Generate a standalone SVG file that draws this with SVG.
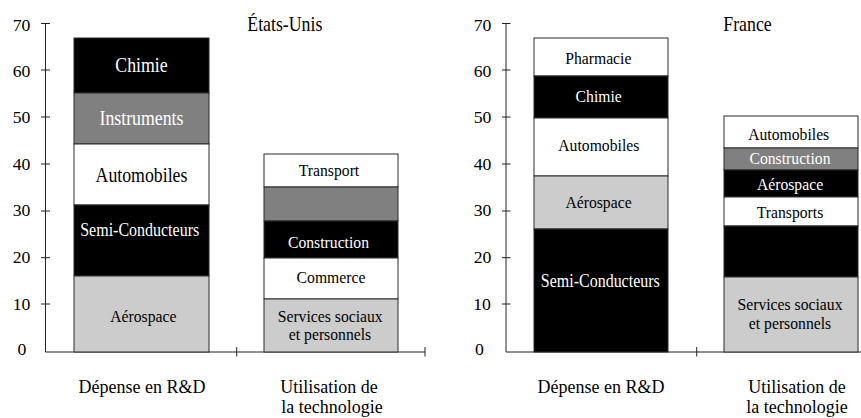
<svg xmlns="http://www.w3.org/2000/svg" width="861" height="418" viewBox="0 0 861 418">
<style>
text{font-family:"Liberation Serif","DejaVu Serif","Times New Roman",serif;fill:#000}
.num{font-size:17.7px;text-anchor:middle}
.lbl{font-size:15.7px;text-anchor:middle}
.big{font-size:17.8px}
.cat{font-size:18px;text-anchor:middle}
.ttl{font-size:17.8px}
.w{fill:#fff}
.k{fill:#000}
.g{fill:#808080}
.l{fill:#cccccc}
.wh{fill:#fff}
rect{stroke:#2a2a2a;stroke-width:1}
.ax{stroke:#222;stroke-width:1;fill:none}
</style>
<g id="axes" font-family="Liberation Serif, serif">
<path class="ax" d="M45.5 23.5V352M41 23.5H50M41 70H50M41 117H50M41 164H50M41 211H50M41 257.7H50M41 304H50M45.5 352H425M236.7 347V356.5M425 347V356.5"/>
<path class="ax" d="M506 23.5V352M502 23.5H510.5M502 70H510.5M502 117H510.5M502 164H510.5M502 211H510.5M502 257.7H510.5M502 304H510.5M506 352H861M696.7 347V356.5"/>
<text class="num" x="21.5" y="30.5">70</text>
<text class="num" x="21.5" y="76.5">60</text>
<text class="num" x="21.5" y="123">50</text>
<text class="num" x="21.5" y="170">40</text>
<text class="num" x="21.5" y="216">30</text>
<text class="num" x="21.5" y="263">20</text>
<text class="num" x="21.5" y="309.5">10</text>
<text class="num" x="22" y="354.5">0</text>
<text class="num" x="482.5" y="30.5">70</text>
<text class="num" x="482.5" y="76.5">60</text>
<text class="num" x="482.5" y="123">50</text>
<text class="num" x="482.5" y="170">40</text>
<text class="num" x="482.5" y="216">30</text>
<text class="num" x="482.5" y="263">20</text>
<text class="num" x="482" y="309.5">10</text>
<text class="num" x="479.5" y="354.5">0</text>
</g>
<g id="titles" font-family="Liberation Serif, serif">
<text class="ttl" transform="translate(247.3 31) scale(1 1.12)">États-Unis</text>
<text class="ttl" transform="translate(723.3 31) scale(1 1.12)">France</text>
<text class="cat" transform="translate(142 393) scale(1 1.1)">Dépense en R&amp;D</text>
<text class="cat" transform="translate(329 393) scale(1 1.05)">Utilisation de</text>
<text class="cat" transform="translate(332 413) scale(1 1.05)">la technologie</text>
<text class="cat" transform="translate(601 393) scale(1 1.1)">Dépense en R&amp;D</text>
<text class="cat" transform="translate(797 393) scale(1 1.05)">Utilisation de</text>
<text class="cat" transform="translate(797 413) scale(1 1.05)">la technologie</text>
</g>
<g id="us-rd" font-family="Liberation Serif, serif">
<g id="us-rd-chimie"><rect class="k" x="74" y="38" width="135" height="55"/><text class="lbl big w" transform="translate(141.5 71.7) scale(1 1.12)">Chimie</text></g>
<g id="us-rd-instruments"><rect class="g" x="74" y="93" width="135" height="51"/><text class="lbl big w" transform="translate(141.5 124.7) scale(1 1.12)">Instruments</text></g>
<g id="us-rd-automobiles"><rect class="wh" x="74" y="144" width="135" height="61"/><text class="lbl big" transform="translate(141.5 182.3) scale(1 1.12)">Automobiles</text></g>
<g id="us-rd-semi"><rect class="k" x="74" y="205" width="135" height="71"/><text class="lbl w" style="font-size:16px" transform="translate(139.7 235.7) scale(1 1.12)">Semi-Conducteurs</text></g>
<g id="us-rd-aero"><rect class="l" x="74" y="276" width="135" height="76"/><text class="lbl" transform="translate(143.3 321.5) scale(1 1.12)">Aérospace</text></g>
</g>
<g id="us-use" font-family="Liberation Serif, serif">
<g id="us-use-transport"><rect class="wh" x="264" y="154" width="134" height="33"/><text class="lbl" transform="translate(329 176) scale(1 1.12)">Transport</text></g>
<g id="us-use-gray"><rect class="g" x="264" y="187" width="134" height="34"/></g>
<g id="us-use-construction"><rect class="k" x="264" y="221" width="134" height="37"/><text class="lbl w" transform="translate(328.5 247.5) scale(1 1.12)">Construction</text></g>
<g id="us-use-commerce"><rect class="wh" x="264" y="258" width="134" height="41"/><text class="lbl" transform="translate(331 283) scale(1 1.12)">Commerce</text></g>
<g id="us-use-services"><rect class="l" x="264" y="299" width="134" height="53"/><text class="lbl" transform="translate(330.2 321.5) scale(1 1.12)">Services sociaux</text><text class="lbl" transform="translate(330 340) scale(1 1.12)">et personnels</text></g>
</g>
<g id="fr-rd" font-family="Liberation Serif, serif">
<g id="fr-rd-pharmacie"><rect class="wh" x="534" y="38" width="134" height="38"/><text class="lbl" transform="translate(598.3 63.5) scale(1 1.12)">Pharmacie</text></g>
<g id="fr-rd-chimie"><rect class="k" x="534" y="76" width="134" height="42"/><text class="lbl w" transform="translate(598.7 101.5) scale(1 1.12)">Chimie</text></g>
<g id="fr-rd-automobiles"><rect class="wh" x="534" y="118" width="134" height="58"/><text class="lbl" transform="translate(598.8 151) scale(1 1.12)">Automobiles</text></g>
<g id="fr-rd-aero"><rect class="l" x="534" y="176" width="134" height="53"/><text class="lbl" transform="translate(598.5 208) scale(1 1.12)">Aérospace</text></g>
<g id="fr-rd-semi"><rect class="k" x="534" y="229" width="134" height="123"/><text class="lbl w" style="font-size:16px" transform="translate(600.3 287) scale(1 1.12)">Semi-Conducteurs</text></g>
</g>
<g id="fr-use" font-family="Liberation Serif, serif">
<g id="fr-use-automobiles"><rect class="wh" x="724" y="116" width="134" height="32"/><text class="lbl" transform="translate(788.7 140) scale(1 1.12)">Automobiles</text></g>
<g id="fr-use-construction"><rect class="g" x="724" y="148" width="134" height="22"/><text class="lbl w" transform="translate(790 163.5) scale(1 1.12)">Construction</text></g>
<g id="fr-use-aero"><rect class="k" x="724" y="170" width="134" height="27"/><text class="lbl w" transform="translate(790 190) scale(1 1.12)">Aérospace</text></g>
<g id="fr-use-transports"><rect class="wh" x="724" y="197" width="134" height="29"/><text class="lbl" transform="translate(790 217.5) scale(1 1.12)">Transports</text></g>
<g id="fr-use-black"><rect class="k" x="724" y="226" width="134" height="51"/></g>
<g id="fr-use-services"><rect class="l" x="724" y="277" width="134" height="75"/><text class="lbl" transform="translate(790 310) scale(1 1.12)">Services sociaux</text><text class="lbl" transform="translate(790 328.5) scale(1 1.12)">et personnels</text></g>
</g>
<g id="connectors"/>
</svg>
